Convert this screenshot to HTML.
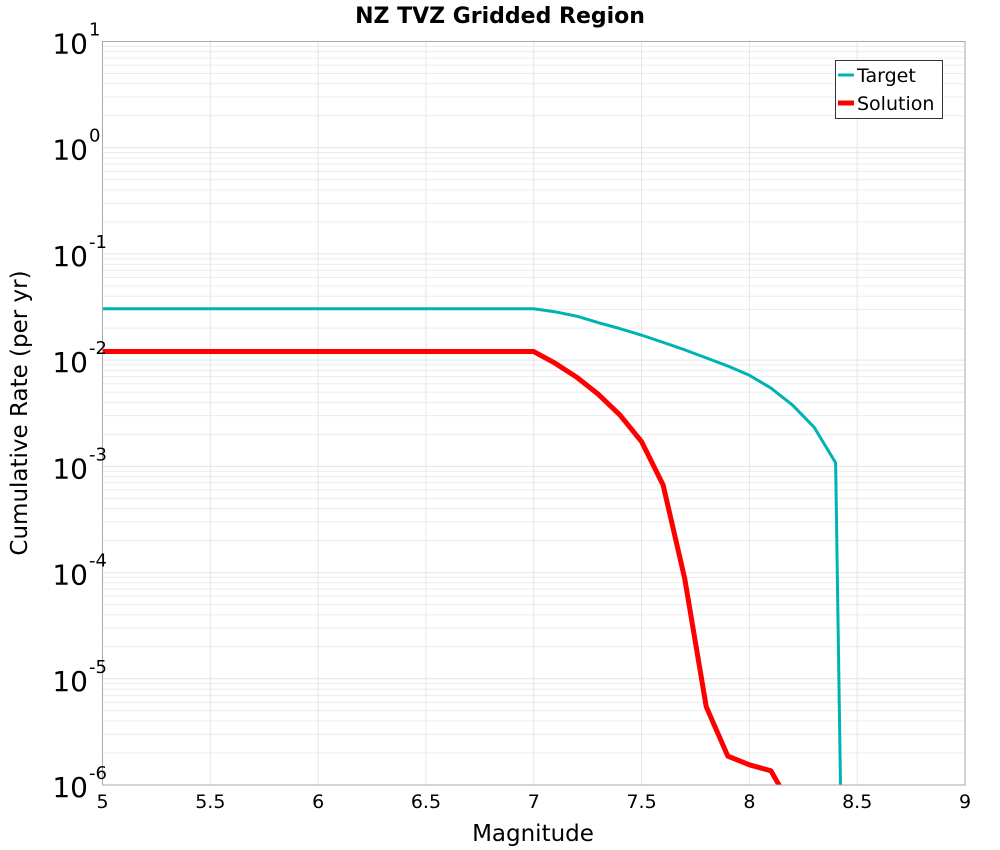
<!DOCTYPE html>
<html><head><meta charset="utf-8"><style>
body{margin:0;background:#fff;}
svg{display:block;font-family:"DejaVu Sans","Liberation Sans",sans-serif;}
</style></head><body>
<svg id="chart" width="1000" height="850" xmlns="http://www.w3.org/2000/svg">
<text x="500" y="23" text-anchor="middle" font-size="22" font-weight="bold">NZ TVZ Gridded Region</text>
<text x="533" y="841" text-anchor="middle" font-size="23">Magnitude</text>
<text transform="translate(27,413) rotate(-90)" text-anchor="middle" font-size="23">Cumulative Rate (per yr)</text>
<g id="grid"></g>
<g id="series"></g>
<rect x="102.5" y="41.5" width="862.5" height="743.5" fill="none" stroke="#aaa" stroke-width="1"/>
<g id="ticks"></g>
<g>
<rect x="835.5" y="60.5" width="107" height="58" fill="#fff" stroke="#333" stroke-width="1"/>
<line x1="838" y1="75" x2="854" y2="75" stroke="#00b3b3" stroke-width="3"/>
<text x="857" y="82" font-size="19">Target</text>
<line x1="838" y1="103" x2="854" y2="103" stroke="#ff0000" stroke-width="5"/>
<text x="857" y="110" font-size="19">Solution</text>
</g>
</svg>
<script>
const xTicks=[5,5.5,6,6.5,7,7.5,8,8.5,9];
const yDecades=[1,0,-1,-2,-3,-4,-5,-6];
const targetMag=[5,7.0,7.1,7.2,7.3,7.4,7.5,7.6,7.7,7.8,7.9,8.0,8.1,8.2,8.3,8.4,8.43];
const targetRate=[0.0305,0.0305,0.0285,0.0259,0.0225,0.0198,0.0172,0.0147,0.0125,0.0105,0.0088,0.0072,0.00546,0.00378,0.00234,0.00108,1e-7];
const solutionMag=[5,7.0,7.1,7.2,7.3,7.4,7.5,7.6,7.7,7.8,7.9,8.0,8.1,8.2];
const solutionRate=[0.01205,0.01205,0.00933,0.00689,0.00476,0.00304,0.00171,0.000667,8.8e-5,5.45e-6,1.87e-6,1.55e-6,1.36e-6,6e-7];
const NS="http://www.w3.org/2000/svg";
const X0=102.5,X1=965,Y0=41.5,Y1=785;
function xs(m){return X0+(m-5)/(9-5)*(X1-X0);}
function ys(v){return Y0+(1-Math.log10(v))/7*(Y1-Y0);}
function mk(tag,attrs,parent){const e=document.createElementNS(NS,tag);for(const k in attrs)e.setAttribute(k,attrs[k]);parent.appendChild(e);return e;}
const grid=document.getElementById('grid'),ticks=document.getElementById('ticks'),series=document.getElementById('series');
for(let d=-6;d<1;d++){for(let k=2;k<10;k++){const y=ys(k*Math.pow(10,d));
const l=mk('line',{x1:X0,x2:X1,y1:y,y2:y,stroke:'#ececec','stroke-width':1},grid);

}}
yDecades.forEach(d=>{const y=ys(Math.pow(10,d));
const l=mk('line',{x1:X0,x2:X1,y1:y,y2:y,stroke:'#e4e4e4','stroke-width':1},grid);


const t=mk('text',{x:88,y:y+12,'text-anchor':'end','font-size':28},ticks);


t.textContent='10';
const s=mk('text',{x:89,y:y-6,'font-size':18},ticks);


s.textContent=String(d);});
xTicks.forEach(m=>{const x=xs(m);
const l=mk('line',{x1:x,x2:x,y1:Y0,y2:Y1,stroke:'#e4e4e4','stroke-width':1},grid);


const t=mk('text',{x:x,y:808,'text-anchor':'middle','font-size':19},ticks);


t.textContent=String(m);});
const clip=mk('clipPath',{id:'pc'},document.getElementById('chart'));
mk('rect',{x:X0,y:Y0,width:X1-X0,height:Y1-Y0},clip);
function line(mags,rates,color,w,name){
const p=mk('polyline',{points:mags.map((m,i)=>xs(m)+','+ys(rates[i])).join(' '),fill:'none',stroke:color,'stroke-width':w,'stroke-linejoin':'round','clip-path':'url(#pc)'},series);

}
line(targetMag,targetRate,'#00b3b3',3,'target-line');
line(solutionMag,solutionRate,'#ff0000',5,'solution-line');
</script>
</body></html>
